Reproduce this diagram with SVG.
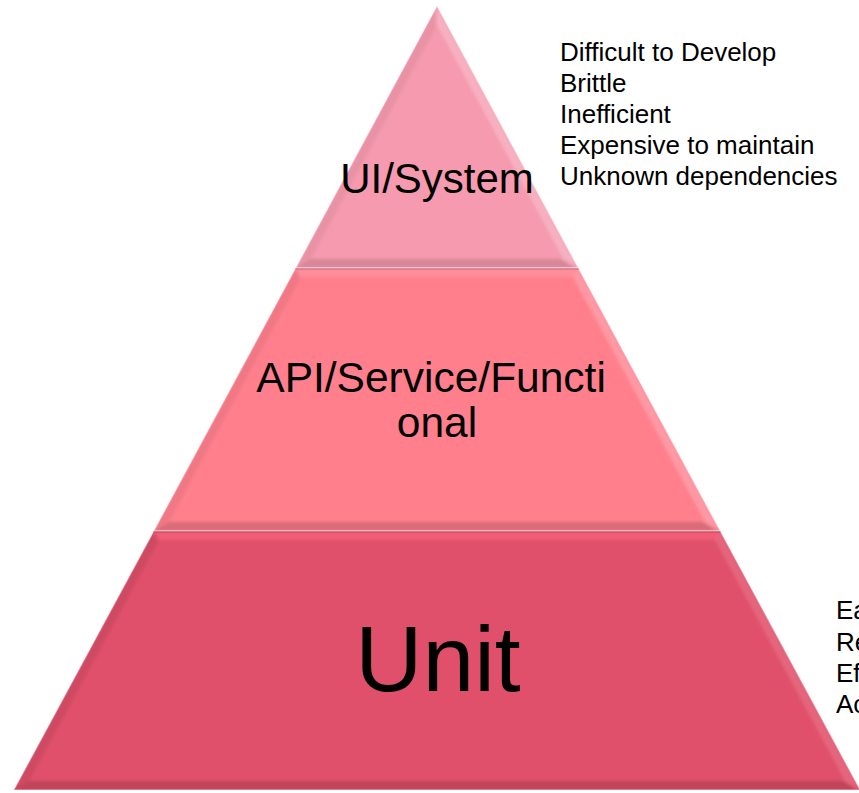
<svg xmlns="http://www.w3.org/2000/svg" width="859" height="793" viewBox="0 0 859 793">
  <style>
    .lbl { font-family: "Liberation Sans", Arial, sans-serif; fill: #000; text-anchor: middle; }
    .note { font-family: "Liberation Sans", Arial, sans-serif; fill: #000; font-size: 26px; }
    .hi { fill: #fff; }
    .lo { fill: #000; }
    .rim { fill: none; stroke: #fff; stroke-opacity: 0.35; stroke-width: 1.5; stroke-linejoin: miter; }
  </style>
  <defs>
    <filter id="soft" x="-5%" y="-5%" width="110%" height="110%">
      <feGaussianBlur stdDeviation="1.6"/>
    </filter>
    <clipPath id="clipTop"><polygon points="437,6 578.3,268 295.7,268"/></clipPath>
    <clipPath id="clipMid"><polygon points="295.7,268 578.3,268 720.2,531 153.8,531"/></clipPath>
    <clipPath id="clipBase"><polygon points="153.8,531 720.2,531 860.2,790 13.8,790"/></clipPath>
  </defs>

  <!-- top tier -->
  <g id="tier-ui-system">
    <polygon points="437,6 578.3,268 295.7,268" fill="#F59AAF"/>
    <g clip-path="url(#clipTop)">
      <g filter="url(#soft)">
        <polygon class="hi" fill-opacity="0.22" points="437,6 578.3,268 563.3,259 437,25"/>
        <polygon class="lo" fill-opacity="0.05" points="437,6 437,25 310.7,259 295.7,268"/>
        <polygon class="lo" fill-opacity="0.12" points="295.7,268 578.3,268 563.3,259 310.7,259"/>
      </g>
    </g>
    <polygon class="rim" points="437,6 578.3,268 295.7,268"/>
    <text class="lbl" x="437" y="193" font-size="42">UI/System</text>
  </g>

  <!-- middle tier -->
  <g id="tier-api">
    <polygon points="295.7,268 578.3,268 720.2,531 153.8,531" fill="#FF7F8D"/>
    <g clip-path="url(#clipMid)">
      <g filter="url(#soft)">
        <polygon class="hi" fill-opacity="0.12" points="295.7,268 578.3,268 573,277 301,277"/>
        <polygon class="hi" fill-opacity="0.2" points="578.3,268 720.2,531 705.2,522 573,277"/>
        <polygon class="lo" fill-opacity="0.06" points="295.7,268 301,277 168.8,522 153.8,531"/>
        <polygon class="lo" fill-opacity="0.15" points="153.8,531 720.2,531 705.2,522 168.8,522"/>
      </g>
      <line x1="290" y1="268.5" x2="585" y2="268.5" stroke="#C9687D" stroke-width="2"/>
    </g>
    <polygon class="rim" points="295.7,268 578.3,268 720.2,531 153.8,531"/>
    <text class="lbl" font-size="42.5">
      <tspan x="437" y="392">API/Service/Functi</tspan>
      <tspan x="437" y="437">onal</tspan>
    </text>
  </g>

  <!-- base tier -->
  <g id="tier-unit">
    <polygon points="153.8,531 720.2,531 860.2,790 13.8,790" fill="#E0506A"/>
    <g clip-path="url(#clipBase)">
      <g filter="url(#soft)">
        <polygon fill="#FF6680" fill-opacity="0.55" points="153.8,531 720.2,531 714.9,540 159.1,540"/>
        <polygon class="hi" fill-opacity="0.12" points="720.2,531 860.2,790 844.9,781 714.9,540"/>
        <polygon class="lo" fill-opacity="0.08" points="153.8,531 159.1,540 29.1,781 13.8,790"/>
        <polygon class="lo" fill-opacity="0.14" points="13.8,790 860.2,790 844.9,781 29.1,781"/>
      </g>
      <line x1="140" y1="531.5" x2="730" y2="531.5" stroke="#C04860" stroke-width="2"/>
    </g>
    <polygon class="rim" points="153.8,531 720.2,531 860.2,790 13.8,790"/>
    <text class="lbl" x="438" y="691" font-size="93">Unit</text>
  </g>

  <!-- side notes -->
  <g id="notes-top">
    <text class="note" x="560" y="61">Difficult to Develop</text>
    <text class="note" x="560" y="92">Brittle</text>
    <text class="note" x="560" y="123">Inefficient</text>
    <text class="note" x="560" y="154">Expensive to maintain</text>
    <text class="note" x="560" y="185">Unknown dependencies</text>
  </g>
  <g id="notes-base">
    <text class="note" x="836" y="619">Ea</text>
    <text class="note" x="836" y="651">Re</text>
    <text class="note" x="836" y="682">Ef</text>
    <text class="note" x="836" y="713">Ac</text>
  </g>
</svg>
